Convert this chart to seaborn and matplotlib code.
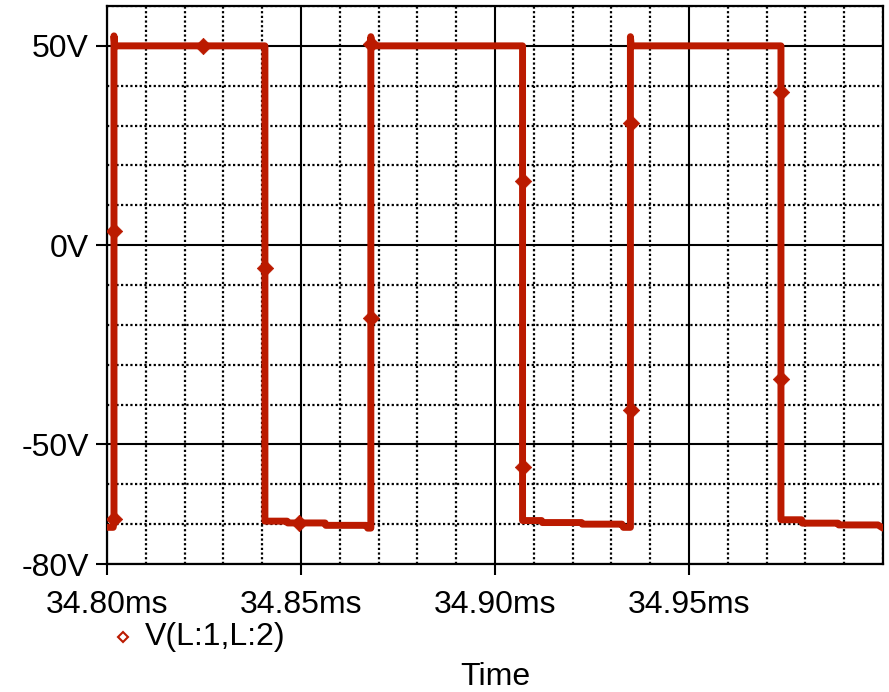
import matplotlib
matplotlib.use("Agg")
import matplotlib.pyplot as plt
from matplotlib.lines import Line2D
from matplotlib.ticker import MultipleLocator
import numpy as np
import pandas as pd
import seaborn as sns

# Transient voltage across the inductor, V(L:1,L:2)
time_ms = [
    34.8000, 34.8016, 34.8018, 34.8018, 34.8020,
    34.8407, 34.8407, 34.8464, 34.8466, 34.8562, 34.8564, 34.8668, 34.8672, 34.8680,
    34.8680, 34.8682,
    34.9071, 34.9071, 34.9120, 34.9122, 34.9223, 34.9225, 34.9327, 34.9331, 34.9349,
    34.9349, 34.9351,
    34.9737, 34.9737, 34.9790, 34.9792, 34.9884, 34.9886, 34.9987, 35.0000,
]
volts = [
    -70.8, -70.8, -69.0, 52.5, 50.0,
    50.0, -69.25, -69.25, -69.7, -69.7, -70.3, -70.3, -71.0, -71.0,
    52.3, 50.0,
    50.0, -69.1, -69.1, -69.6, -69.6, -70.0, -70.0, -70.8, -70.8,
    52.3, 50.0,
    50.0, -68.9, -68.9, -69.75, -69.75, -70.2, -70.2, -71.0,
]

# Symbol positions along the trace
marker_t = [34.8019, 34.8018, 34.8247, 34.8407, 34.8495, 34.8681, 34.8681,
            34.9071, 34.9071, 34.9350, 34.9350, 34.9736, 34.9736]
marker_v = [-68.8, 3.5, 50.0, -5.75, -69.7, -18.25, 50.5,
            16.1, -55.6, 30.7, -41.4, 38.4, -33.5]

x_ticks = [34.80, 34.85, 34.90, 34.95]
x_labels = ["34.80ms", "34.85ms", "34.90ms", "34.95ms"]
y_ticks = [-80, -50, 0, 50]
y_labels = ["-80V", "-50V", "0V", "50V"]

trace_name = "V(L:1,L:2)"
x_title = "Time"

RED = "#BB1A00"

sns.set_theme(style="white")
plt.rcParams["font.family"] = ["Liberation Sans", "DejaVu Sans"]

fig = plt.figure(figsize=(8.89, 6.92), dpi=100)
ax = fig.add_axes([107 / 889, 128 / 692, 776 / 889, 558 / 692])

df = pd.DataFrame({"t": time_ms, "v": volts})
sns.lineplot(data=df, x="t", y="v", sort=False, estimator=None, color=RED,
             linewidth=5.0, solid_joinstyle="round", solid_capstyle="round",
             ax=ax, zorder=3)
sns.scatterplot(x=marker_t, y=marker_v, marker="D", s=70, color=RED,
                edgecolor=RED, linewidth=0.5, ax=ax, zorder=4, legend=False)

ax.set_xlim(34.80, 35.00)
ax.set_ylim(-80, 60)

ax.set_xticks(x_ticks)
ax.set_xticklabels(x_labels)
ax.set_yticks(y_ticks)
ax.set_yticklabels(y_labels)
ax.xaxis.set_minor_locator(MultipleLocator(0.01))
ax.yaxis.set_minor_locator(MultipleLocator(10))

ax.grid(which="major", color="black", linestyle="-", linewidth=1.5, zorder=1)
ax.grid(which="minor", color="black", linestyle=(0, (1, 1.1)), linewidth=1.6, zorder=1)
ax.set_axisbelow(True)

ax.tick_params(which="major", direction="out", length=8, width=1.5, color="black",
               labelsize=23, labelcolor="black", bottom=True, left=True, pad=5)
ax.tick_params(which="minor", length=0)
ax.tick_params(axis="x", pad=11)

for sp in ax.spines.values():
    sp.set_visible(True)
    sp.set_color("black")
    sp.set_linewidth(1.6)

ax.set_xlabel("")
ax.set_ylabel("")

# Trace legend below the axis labels
fig.add_artist(Line2D([123 / 889], [1 - 637 / 692], marker="D", markersize=5,
                      markerfacecolor="white", markeredgecolor=RED,
                      markeredgewidth=1.5, linestyle="none",
                      transform=fig.transFigure))
fig.text(145 / 889, 1 - 637 / 692, trace_name, fontsize=23, ha="left",
         va="center", color="black")
fig.text(495 / 889, 1 - 677 / 692, x_title, fontsize=23, ha="center",
         va="center", color="black")

fig.savefig("out.png", dpi=100)
